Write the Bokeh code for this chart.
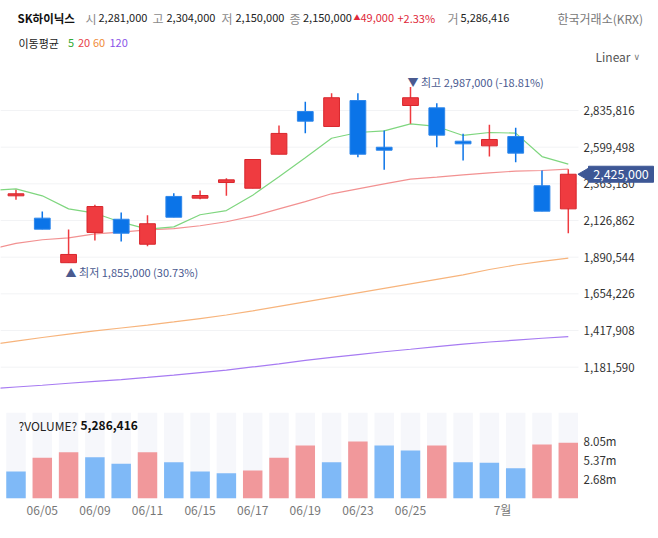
import math
from bokeh.plotting import figure
from bokeh.layouts import column
from bokeh.models import Range1d, FixedTicker, NumeralTickFormatter, Label, ColumnDataSource
from bokeh.embed import file_html
from bokeh.resources import INLINE
from bokeh.core.properties import value

FONT = "Noto Sans CJK KR"

# ---------------- data ----------------
idx = list(range(22))
opens  = [2286000, 2142000, 1855000, 2050000, 2135000, 1974000, 2282000, 2271000, 2372000, 2335000, 2554000,
          2829000, 2733000, 2900000, 2599000, 2868000, 2853000, 2638000, 2608000, 2668000, 2351000, 2202000]
highs  = [2325000, 2185000, 2069000, 2228000, 2178000, 2161000, 2303000, 2320000, 2400000, 2520000, 2739000,
          2892000, 2947000, 2947000, 2707000, 2987000, 2883000, 2686000, 2744000, 2724000, 2449000, 2458000]
lows   = [2260000, 2071000, 1855000, 1998000, 1992000, 1961000, 2148000, 2264000, 2286000, 2335000, 2554000,
          2690000, 2733000, 2535000, 2454000, 2750000, 2599000, 2514000, 2539000, 2503000, 2187000, 2045000]
closes = [2299000, 2071000, 1908000, 2217000, 2045000, 2106000, 2148000, 2288000, 2389000, 2520000, 2688000,
          2767000, 2918000, 2554000, 2580000, 2918000, 2677000, 2621000, 2649000, 2561000, 2187000, 2425000]

volumes = [3770000, 5700000, 6500000, 5790000, 4860000, 6500000, 5080000, 3770000, 3530000, 3910000, 5700000,
           7440000, 5080000, 8000000, 7440000, 6740000, 7440000, 5080000, 5000000, 4240000, 7580000, 7820000]
vol_up = [False, True, True, False, False, True, False, False, False, True, True,
          True, False, True, False, False, True, False, False, False, True, True]

ma_x = list(range(-1, 22))
ma5   = [2320000, 2331000, 2286000, 2202000, 2174000, 2116000, 2071000, 2086000, 2164000, 2191000, 2290000, 2409000,
         2531000, 2657000, 2694000, 2705000, 2750000, 2733000, 2675000, 2694000, 2690000, 2539000, 2490000]
ma20  = [1939000, 1979000, 2003000, 2015000, 2041000, 2052000, 2067000, 2075000, 2093000, 2119000, 2155000, 2202000,
         2249000, 2299000, 2331000, 2363000, 2393000, 2406000, 2421000, 2434000, 2445000, 2449000, 2458000]
ma60  = [1325000, 1350000, 1373000, 1395000, 1415000, 1434000, 1453000, 1473000, 1495000, 1518000, 1544000, 1573000,
         1602000, 1631000, 1660000, 1689000, 1718000, 1747000, 1776000, 1811000, 1840000, 1863000, 1884000]
ma120 = [1042000, 1054000, 1065000, 1078000, 1090000, 1102000, 1116000, 1131000, 1147000, 1163000, 1183000, 1203000,
         1225000, 1245000, 1263000, 1281000, 1297000, 1314000, 1330000, 1344000, 1356000, 1368000, 1379000]

price_ticks = [1181590, 1417908, 1654226, 1890544, 2126862, 2363180, 2599498, 2835816]
vol_ticks = [2683333, 5366667, 8050000]
date_ticks = [1, 3, 5, 7, 9, 11, 13, 15, 18.5]
date_labels = ["06/05", "06/09", "06/11", "06/15", "06/17", "06/19", "06/23", "06/25", "7월"]

stock_name = "SK하이닉스"
ohlc_names = ["시", "고", "저", "종"]
ohlc_vals = ["2,281,000", "2,304,000", "2,150,000", "2,150,000"]
change_abs = "49,000"
change_pct = "+2.33%"
vol_name = "거"
vol_val = "5,286,416"
exchange = "한국거래소(KRX)"
ma_title = "이동평균"
ma_names = ["5", "20", "60", "120"]
hi_text = "▼ 최고 2,987,000 (-18.81%)"
lo_text = "▲ 최저 1,855,000 (30.73%)"

# ---------------- styles ----------------
RED = "#ef3b40"
RED_EDGE = "#d8262c"
BLUE = "#0b74e8"
BLUE_EDGE = "#2d86ea"
VRED = "#f1989b"
VBLUE = "#7fb9f7"
MA_COLORS = ["#7fd67f", "#f29191", "#f7b47c", "#a77bf2"]
MA_TXT = ["#33aa33", "#e8424a", "#f08c3a", "#8a55e8"]
NAVY = "#3d5795"
ANN = "#4a5a8f"

W = 658
PLOT_W = 578                      # width of the candle area; axis labels to its right
X0 = -0.589
PX = PLOT_W / (21.388 - X0)       # pixels per candle slot
x_range = Range1d(X0, X0 + W / PX)
AX_X = X0 + PLOT_W / PX


def sx(px):
    return X0 + px / PX

# ---------------- header ----------------
h = figure(width=W, height=72, x_range=Range1d(0, W), y_range=Range1d(72, 0),
           output_backend="svg", toolbar_location=None, min_border=0)
h.axis.visible = False
h.grid.visible = False
h.outline_line_color = None

def htext(x, y, t, color="#222222", size="11px", style="normal", font=FONT):
    h.text(x=[x], y=[y], text=[t], text_font=value(font), text_font_size=value(size),
           text_color=color, text_font_style=style, text_baseline="middle", text_align="left")

htext(17, 17.5, stock_name, "#111111", "11.5px", "bold")
for name, val, xn, xv in zip(ohlc_names, ohlc_vals, [85, 152, 221, 289], [98, 166, 235, 302.5]):
    htext(xn, 17.5, name, "#8a8a8a", "12px")
    htext(xv, 17.5, val, "#222222", "11px")
htext(353, 16.5, "▲", "#e0283a", "7px")
htext(360, 17.5, change_abs, "#e0283a")
htext(397, 17.5, change_pct, "#e0283a")
htext(447, 17.5, vol_name, "#8a8a8a", "12px")
htext(460, 17.5, vol_val, "#222222")
htext(557, 18, exchange, "#777777", "12px")
htext(18, 42.5, ma_title, "#222222", "11px")
for t, xx, c in zip(ma_names, [67.5, 77.5, 92.5, 109], MA_TXT):
    htext(xx, 42.5, t, c, "11px")
htext(595, 56, "Linear", "#555555", "12px")
htext(633, 56, "∨", "#777777", "9px", font="DejaVu Sans")


def style_axis(a, size="11.5px", color="#333333", standoff=5):
    a.axis_line_color = None
    a.major_tick_line_color = None
    a.minor_tick_line_color = None
    a.major_tick_in = 0
    a.major_tick_out = 0
    a.major_label_standoff = standoff
    a.major_label_text_font = FONT
    a.major_label_text_font_size = size
    a.major_label_text_color = color

# ---------------- price ----------------
p = figure(width=W, height=326, x_range=x_range, y_range=Range1d(979771, 3080711),
           output_backend="svg", toolbar_location=None, y_axis_location="right", min_border=0)
p.xaxis.visible = False
p.grid.visible = False
p.outline_line_color = None
ax = p.yaxis[0]
ax.ticker = FixedTicker(ticks=price_ticks)
ax.formatter = NumeralTickFormatter(format="0,0")
ax.fixed_location = AX_X
style_axis(ax)

# horizontal grid lines over the candle area only
p.segment(x0=x_range.start, x1=AX_X, y0=price_ticks, y1=price_ticks, line_color="#f2f3f5", line_width=1)

for ys, c in zip([ma120, ma60, ma20, ma5], MA_COLORS[::-1]):
    p.line(ma_x, ys, line_color=c, line_width=1.2)

up = [c >= o for o, c in zip(opens, closes)]
src = ColumnDataSource(dict(
    x=idx, high=highs, low=lows,
    top=[max(o, c) for o, c in zip(opens, closes)],
    bottom=[min(o, c) for o, c in zip(opens, closes)],
    color=[RED if u else BLUE for u in up],
    edge=[RED_EDGE if u else BLUE_EDGE for u in up],
))
p.segment(x0="x", x1="x", y0="low", y1="high", line_color="color", line_width=1.5, source=src)
p.vbar(x="x", top="top", bottom="bottom", width=0.6, fill_color="color", line_color="edge",
       line_width=1, source=src)

hi_i = highs.index(max(highs))
lo_i = lows.index(min(lows))
p.text(x=[hi_i], y=[highs[hi_i]], text=[hi_text], text_font=value(FONT), text_font_size=value("11px"),
       text_color=ANN, text_baseline="middle", text_align="left", x_offset=-3, y_offset=-5.5)
p.text(x=[lo_i], y=[lows[lo_i]], text=[lo_text], text_font=value(FONT), text_font_size=value("11px"),
       text_color=ANN, text_baseline="middle", text_align="left", x_offset=-3, y_offset=9.5)

# current-price badge over the axis labels
last = closes[-1]
r1 = p.scatter(x=[sx(585)], y=[last], marker="triangle", size=13, angle=math.pi / 2,
               fill_color=NAVY, line_color=NAVY)
r2 = p.rect(x=[sx(620.5)], y=[last], width=65, height=16, width_units="screen", height_units="screen",
            fill_color=NAVY, line_color=NAVY)
r3 = p.text(x=[sx(620.5)], y=[last], text=[f"{last:,}"], text_font=value(FONT), text_font_size=value("12.5px"),
            text_color="white", text_baseline="middle", text_align="center")
for r in (r1, r2, r3):
    r.level = "overlay"

# ---------------- volume ----------------
VMAX = 12060000
v = figure(width=W, height=140, x_range=x_range, y_range=Range1d(0, VMAX),
           output_backend="svg", toolbar_location=None, y_axis_location="right",
           min_border_left=0, min_border_right=0, min_border_top=14, min_border_bottom=40)
v.grid.visible = False
v.outline_line_color = None
v.vbar(x=idx, top=VMAX, width=0.74, fill_color="#f6f7fb", line_color=None)
v.vbar(x=idx, top=volumes, width=0.74, fill_color=[VRED if u else VBLUE for u in vol_up],
       line_color=None)
vy = v.yaxis[0]
vy.ticker = FixedTicker(ticks=vol_ticks)
vy.formatter = NumeralTickFormatter(format="0.00a")
vy.fixed_location = AX_X
style_axis(vy)
vx = v.xaxis[0]
vx.ticker = FixedTicker(ticks=date_ticks)
vx.major_label_overrides = {t: l for t, l in zip(date_ticks, date_labels)}
style_axis(vx, "12px", "#777777", 2)

ly = (498 - 425) / 86 * VMAX
v.add_layout(Label(x=sx(18), y=ly, text="?VOLUME?", text_font=FONT, text_font_size="12px",
                   text_color="#222222", text_baseline="middle", text_align="left"))
v.add_layout(Label(x=sx(18), y=ly, x_offset=62, text=vol_val, text_font=FONT, text_font_size="12px",
                   text_font_style="bold", text_color="#111111", text_baseline="middle", text_align="left"))

for f in (h, p, v):
    if hasattr(f, "frame_align"):
        f.frame_align = False

layout = column(h, p, v, spacing=0)
open("out.html", "w").write(file_html(layout, INLINE))
